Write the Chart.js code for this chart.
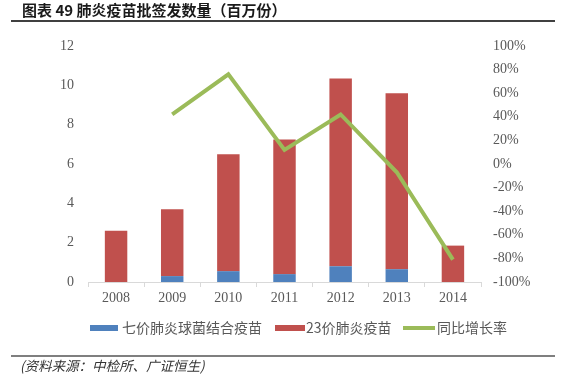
<!DOCTYPE html>
<html>
<head>
<meta charset="utf-8">
<script src="https://cdn.jsdelivr.net/npm/chart.js@4/dist/chart.umd.min.js"></script>
<style>
html,body{margin:0;padding:0;background:#fff;}
#wrap{position:relative;width:561px;height:383px;}
</style>
</head>
<body>
<div id="wrap"><canvas id="c" width="561" height="383"></canvas></div>
<script>
const categories = ['2008','2009','2010','2011','2012','2013','2014'];
const pcv7Values = [0, 0.3, 0.55, 0.4, 0.8, 0.65, 0];
const ppv23Values = [2.6, 3.4, 5.95, 6.85, 9.55, 8.95, 1.85];
const growthValues = [null, 42, 76, 12, 42, -7, -81];
const leftTicks = [0, 2, 4, 6, 8, 10, 12];
const rightTicks = [-100, -80, -60, -40, -20, 0, 20, 40, 60, 80, 100];
const seriesNames = ['七价肺炎球菌结合疫苗', '23价肺炎疫苗', '同比增长率'];
const titleText = '图表 49 肺炎疫苗批签发数量（百万份）';
const sourceText = '(资料来源：中检所、广证恒生)';

const colors = ['#4f81bd', '#c0504d', '#9bbb59'];
const serif = "'Liberation Serif', 'DejaVu Serif', serif";
const cjk = "'Noto Sans CJK SC', sans-serif";

const decor = {
  id: 'decor',
  afterDraw(chart) {
    const ctx = chart.ctx;
    ctx.save();
    // title
    ctx.fillStyle = '#1a1a1a';
    ctx.font = "bold 15px " + cjk;
    ctx.textBaseline = 'middle';
    ctx.textAlign = 'left';
    ctx.fillText(titleText, 22, 10);
    ctx.strokeStyle = '#000';
    ctx.lineWidth = 1.5;
    ctx.beginPath(); ctx.moveTo(11, 21); ctx.lineTo(555, 21); ctx.stroke();
    ctx.lineWidth = 1.2;
    ctx.beginPath(); ctx.moveTo(11, 356); ctx.lineTo(555, 356); ctx.stroke();
    // source
    ctx.font = "italic 13.5px " + cjk;
    ctx.fillStyle = '#333';
    ctx.fillText(sourceText, 20, 366);
    // legend
    ctx.font = "14px " + cjk;
    const y = 328;
    ctx.fillStyle = colors[0]; ctx.fillRect(90, y - 3, 28, 6);
    ctx.fillStyle = '#595959'; ctx.fillText(seriesNames[0], 122, y);
    ctx.fillStyle = colors[1]; ctx.fillRect(275, y - 3, 30, 6);
    ctx.fillStyle = '#595959'; ctx.fillText(seriesNames[1], 306, y);
    ctx.strokeStyle = colors[2]; ctx.lineWidth = 4;
    ctx.beginPath(); ctx.moveTo(403, y); ctx.lineTo(435, y); ctx.stroke();
    ctx.fillStyle = '#595959'; ctx.fillText(seriesNames[2], 437, y);
    ctx.restore();
  }
};

new Chart(document.getElementById('c'), {
  type: 'bar',
  data: {
    labels: categories,
    datasets: [
      { type: 'line', label: seriesNames[2], data: growthValues, yAxisID: 'y1',
        borderColor: colors[2], backgroundColor: colors[2], borderWidth: 4,
        pointRadius: 0, tension: 0, spanGaps: false, order: 0, borderJoinStyle: 'miter' },
      { label: seriesNames[0], data: pcv7Values, backgroundColor: colors[0], yAxisID: 'y', stack: 's', order: 1 },
      { label: seriesNames[1], data: ppv23Values, backgroundColor: colors[1], yAxisID: 'y', stack: 's', order: 1 }
    ]
  },
  options: {
    responsive: false,
    animation: false,
    devicePixelRatio: 1,
    layout: { padding: { top: 46, left: 0, right: 0, bottom: 0 } },
    datasets: { bar: { categoryPercentage: 1, barPercentage: 0.4 } },
    plugins: { legend: { display: false }, tooltip: { enabled: false }, title: { display: false } },
    scales: {
      x: {
        stacked: true,
        grid: { display: true, drawOnChartArea: false, drawTicks: true, tickLength: 5, color: '#d9d9d9', offset: true },
        border: { display: true, color: '#d9d9d9' },
        ticks: { color: '#595959', font: { family: serif, size: 14 }, padding: 3, maxRotation: 0 },
        afterFit(s) { s.height = 101; }
      },
      y: {
        stacked: true, position: 'left', min: 0, max: 12,
        afterBuildTicks(s) { s.ticks = leftTicks.map(v => ({ value: v })); },
        grid: { display: false, drawTicks: false },
        border: { display: false },
        ticks: { color: '#595959', font: { family: serif, size: 14 }, padding: 14 },
        afterFit(s) { s.width = 88; }
      },
      y1: {
        position: 'right', min: -100, max: 100,
        afterBuildTicks(s) { s.ticks = rightTicks.map(v => ({ value: v })); },
        grid: { display: false, drawTicks: false },
        border: { display: false },
        ticks: { color: '#595959', font: { family: serif, size: 14 }, padding: 12, callback: v => v + '%' },
        afterFit(s) { s.width = 80; }
      }
    }
  },
  plugins: [decor]
});
</script>
</body>
</html>
